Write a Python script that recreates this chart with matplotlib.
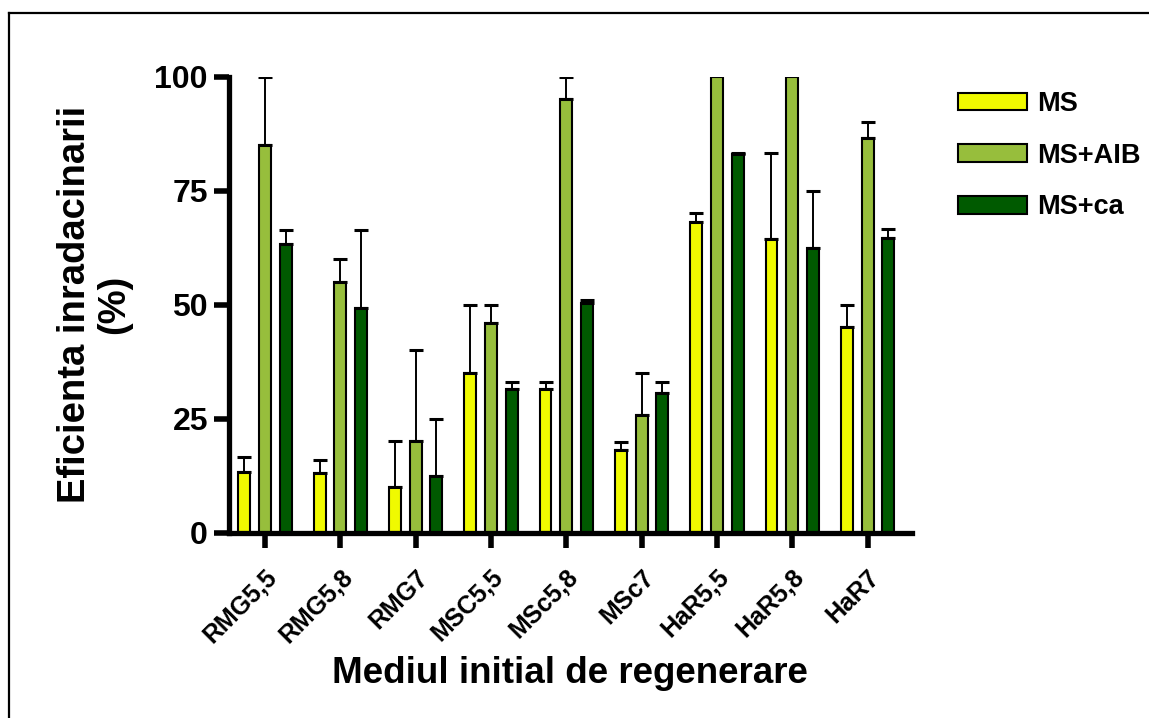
import numpy as np
import matplotlib
matplotlib.use("Agg")
import matplotlib.pyplot as plt
import matplotlib.transforms as mtransforms
from matplotlib.lines import Line2D

# Rooting efficiency (%) per initial regeneration medium
categories = ["RMG5,5", "RMG5,8", "RMG7", "MSC5,5", "MSc5,8",
              "MSc7", "HaR5,5", "HaR5,8", "HaR7"]
series_names = ["MS", "MS+AIB", "MS+ca"]

ms_vals = [13.2, 13.0, 10.0, 35.0, 31.5, 18.2, 68.2, 64.5, 45.0]
ms_err = [3.3, 3.0, 10.0, 15.0, 1.6, 1.7, 1.8, 18.7, 5.0]

aib_vals = [85.0, 55.0, 20.0, 46.0, 95.0, 25.7, 100.0, 100.0, 86.5]
aib_err = [15.0, 5.0, 20.0, 4.0, 5.0, 9.3, 0.0, 0.0, 3.5]

ca_vals = [63.2, 49.2, 12.4, 31.5, 50.4, 30.6, 83.0, 62.4, 64.6]
ca_err = [3.2, 17.2, 12.5, 1.6, 0.5, 2.5, 0.2, 12.6, 1.9]

y_ticks = [0, 25, 50, 75, 100]

colors = ["#F0FA00", "#97BE3C", "#005A00"]

plt.rcParams["font.family"] = ["Liberation Sans", "DejaVu Sans"]
plt.rcParams["font.weight"] = "bold"

W, H = 1149, 718
fig = plt.figure(figsize=(W / 100, H / 100), dpi=100)
ax_l, ax_r, ax_t, ax_b = 228.5, 912.0, 76.7, 532.5
ax = fig.add_axes([ax_l / W, 1 - ax_b / H, (ax_r - ax_l) / W, (ax_b - ax_t) / H])

x = np.arange(len(categories))
step = 0.276
width = 0.158
all_vals = [ms_vals, aib_vals, ca_vals]
all_errs = [ms_err, aib_err, ca_err]

for i, (vals, errs, col, name) in enumerate(zip(all_vals, all_errs, colors, series_names)):
    pos = x + (i - 1) * step
    ax.bar(pos, vals, width=width, color=col, edgecolor="black",
           linewidth=1.5, label=name, zorder=2)
    errs = np.asarray(errs)
    vals = np.asarray(vals)
    keep = errs > 0
    ax.errorbar(pos[keep], vals[keep],
                yerr=[np.zeros(keep.sum()), errs[keep]],
                fmt="none", ecolor="black", elinewidth=1.4,
                capsize=4.8, capthick=2.2, zorder=3)

ax.set_xlim(-0.485, 8.59)
ax.set_ylim(0, 100)
ax.set_yticks(y_ticks)
ax.set_xticks(x)
ax.set_xticklabels(categories, rotation=45, ha="right", rotation_mode="anchor",
                   fontsize=18, fontweight="bold")
shift = mtransforms.ScaledTranslation(-7 / 100, 0, fig.dpi_scale_trans)
for lab in ax.get_xticklabels():
    lab.set_transform(lab.get_transform() + shift)
for lab in ax.get_yticklabels():
    lab.set_fontsize(23)
    lab.set_fontweight("bold")

for side in ["top", "right"]:
    ax.spines[side].set_visible(False)
for side in ["left", "bottom"]:
    ax.spines[side].set_linewidth(3.8)

ax.tick_params(axis="both", direction="out", length=10.5, width=4)
ax.tick_params(axis="x", pad=13.0)
ax.tick_params(axis="y", pad=4.3)

ax.set_ylabel("Eficienta inradacinarii\n(%)", fontsize=27.5,
              fontweight="bold", linespacing=1.12)
ax.yaxis.set_label_coords(-0.1412, 0.5)

ax.set_xlabel("Mediul initial de regenerare", fontsize=26.5, fontweight="bold")
ax.xaxis.label.set_verticalalignment("baseline")
ax.xaxis.set_label_coords(0.5, -0.3308)

ax.legend(loc="upper left", bbox_to_anchor=(958 / W, 1 - 91 / H),
          bbox_transform=fig.transFigure, frameon=False,
          prop={"weight": "bold", "size": 19.5},
          handlelength=2.55, handleheight=0.63, handletextpad=0.36,
          labelspacing=0.95, borderpad=0, borderaxespad=0)

# frame lines along the top and left edges of the figure
bx, by = 8.5 / W, 1 - 12.7 / H
fig.add_artist(Line2D([bx, bx], [0, by], transform=fig.transFigure,
                      color="black", linewidth=1.6))
fig.add_artist(Line2D([bx, 1], [by, by], transform=fig.transFigure,
                      color="black", linewidth=1.6))

fig.savefig("out.png", dpi=100)
